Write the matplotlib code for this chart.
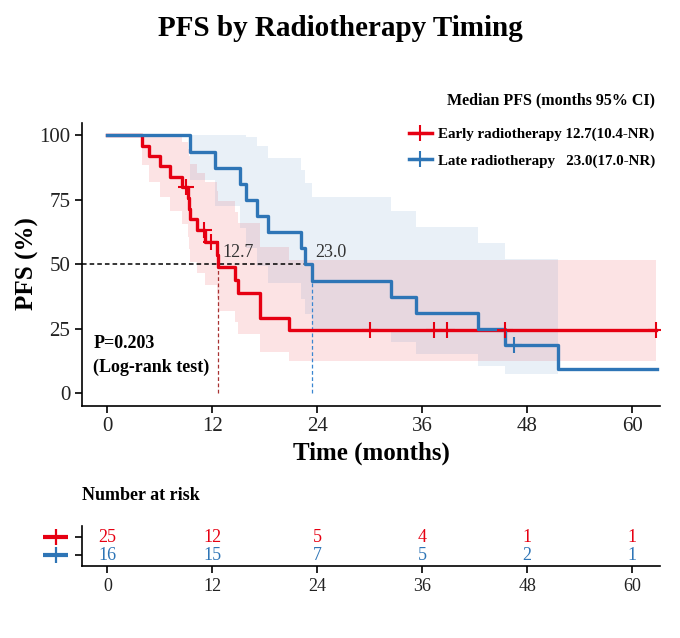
import matplotlib
matplotlib.use("Agg")
import matplotlib.pyplot as plt
from matplotlib.lines import Line2D
from matplotlib.transforms import blended_transform_factory

plt.rcParams['font.family'] = ['Liberation Serif', 'DejaVu Serif']

# ---------------- data ----------------
red_color = '#E60012'
blue_color = '#2E75B6'

groups = ['Early radiotherapy', 'Late radiotherapy']
legend_labels = ['Early radiotherapy 12.7(10.4-NR)', 'Late radiotherapy   23.0(17.0-NR)']

red_time = [0, 4.0, 4.8, 6.0, 7.2, 8.5, 9.2, 9.3, 9.5, 10.2, 11.2, 12.5, 12.7, 14.6, 14.9, 17.5, 20.8, 62.7]
red_surv = [100, 96, 92, 88, 84, 80, 75.8, 71.6, 67.4, 63.2, 58.7, 53.8, 48.9, 44.0, 39.1, 29.3, 24.4, 24.4]
red_upper = [100, 100, 100, 100, 99.7, 97.3, 94.7, 91.9, 88.8, 85.6, 82.1, 78.4, 74.5, 70.3, 66.0, 56.6, 51.7, 51.7]
red_lower = [100, 88.6, 82.0, 76.1, 70.8, 65.8, 60.7, 55.8, 51.1, 46.6, 41.9, 36.9, 32.1, 27.5, 23.2, 16.0, 12.5, 12.5]
red_cens_t = [9.0, 11.0, 11.9, 30.0, 37.4, 38.8, 45.5, 62.7]
red_cens_s = [80, 63.2, 58.7, 24.4, 24.4, 24.4, 24.4, 24.4]

blue_time = [0, 9.5, 12.3, 15.2, 15.9, 17.1, 18.4, 22.1, 22.6, 23.4, 32.4, 35.3, 42.4, 45.5, 51.5, 62.8]
blue_surv = [100, 93.75, 87.5, 81.25, 75, 68.75, 62.5, 56.25, 50, 43.75, 37.5, 31.25, 25, 18.75, 9.375, 9.375]
blue_band_time = [0, 9.5, 12.3, 15.2, 15.9, 17.1, 18.4, 22.1, 22.6, 23.4, 32.4, 35.3, 42.4, 45.5, 51.5]
blue_upper = [100, 100, 100, 100, 99.5, 95.7, 91.4, 86.7, 81.6, 76.3, 70.6, 64.6, 58.4, 52.0, 52.0]
blue_lower = [100, 82.6, 72.7, 64.2, 56.5, 49.4, 42.8, 36.5, 30.6, 25.1, 19.9, 15.1, 10.7, 7.5, 7.5]
blue_cens_t = [46.5]
blue_cens_s = [18.75]

median_values = [12.7, 23.0]
median_line_x = [12.7, 23.4]

risk_times = [0, 12, 24, 36, 48, 60]
risk_red = [25, 12, 5, 4, 1, 1]
risk_blue = [16, 15, 7, 5, 2, 1]

x_ticks = [0, 12, 24, 36, 48, 60]
y_ticks = [0, 25, 50, 75, 100]

# ---------------- figure ----------------
W, H = 680, 638
fig = plt.figure(figsize=(W / 100, H / 100), dpi=100)

ax = fig.add_axes([82 / W, 1 - 405.5 / H, 578 / W, 283 / H])
xlim = (-2.9, 63.2)
ax.set_xlim(*xlim)
ax.set_ylim(-4.7, 105)

# confidence bands
ax.fill_between(red_time, red_lower, red_upper, step='post', color=red_color, alpha=0.11, lw=0)
ax.fill_between(blue_band_time, blue_lower, blue_upper, step='post', color=blue_color, alpha=0.10, lw=0)

# median lines
ax.hlines(50, xlim[0], median_line_x[1], colors='black', linestyles=(0, (3, 2)), lw=1.1, zorder=3)
ax.vlines(median_line_x[0], 0, 50, colors='#A83232', linestyles=(0, (3, 2)), lw=0.9, zorder=3)
ax.vlines(median_line_x[1], 0, 50, colors='#3A86D0', linestyles=(0, (3, 2)), lw=0.9, zorder=3)

# survival curves
ax.step(red_time, red_surv, where='post', color=red_color, lw=2.4, zorder=4)
ax.step(blue_time, blue_surv, where='post', color=blue_color, lw=2.4, zorder=4)
ax.plot(red_cens_t, red_cens_s, ls='none', marker='+', ms=11, mew=1.5, color=red_color, zorder=5)
ax.plot(blue_cens_t, blue_cens_s, ls='none', marker='+', ms=11, mew=1.5, color=blue_color, zorder=5)

# median labels
ax.text(median_line_x[0] + 0.4, 51.2, f"{median_values[0]:.1f}", fontsize=13, color='#333333',
        ha='left', va='bottom')
ax.text(median_line_x[1] + 0.4, 51.2, f"{median_values[1]:.1f}", fontsize=13, color='#333333',
        ha='left', va='bottom')

# p-value
ax.text(-1.6, 19.5, "P=0.203", fontsize=13, fontweight='bold', ha='left', va='center')
ax.text(-1.6, 10.2, "(Log-rank test)", fontsize=13, fontweight='bold', ha='left', va='center')

# axes styling
for s in ['top', 'right']:
    ax.spines[s].set_visible(False)
for s in ['left', 'bottom']:
    ax.spines[s].set_linewidth(1.2)
ax.set_xticks(x_ticks)
ax.set_yticks(y_ticks)
ax.tick_params(direction='out', length=5, width=1.2, labelsize=15, labelcolor='#222222')
ax.set_xlabel("Time (months)", fontsize=18, fontweight='bold', labelpad=4)
ax.set_ylabel("PFS (%)", fontsize=18, fontweight='bold', labelpad=0)

# legend
handles = [Line2D([], [], color=red_color, lw=2.5, marker='+', ms=12, mew=1.5),
           Line2D([], [], color=blue_color, lw=2.5, marker='+', ms=12, mew=1.5)]
leg = ax.legend(handles, legend_labels, loc='upper right',
                bbox_to_anchor=(660 / W, 1 - 123 / H), bbox_transform=fig.transFigure,
                frameon=False, prop={'size': 10.8, 'weight': 'bold'},
                handlelength=1.5, handletextpad=0.45, labelspacing=0.85,
                borderaxespad=0, borderpad=0.3)
fig.text(655 / W, 1 - 100 / H, "Median PFS (months 95% CI)", fontsize=11.5, fontweight='bold',
         ha='right', va='center')

# title
fig.text(0.5, 1 - 28 / H, "PFS by Radiotherapy Timing", fontsize=21, fontweight='bold',
         ha='center', va='center')

# ---------------- risk table ----------------
rax = fig.add_axes([82 / W, 1 - 566 / H, 578 / W, 40 / H])
rax.set_xlim(*xlim)
rax.set_ylim(-0.6, 1.63)
for s in ['top', 'right']:
    rax.spines[s].set_visible(False)
for s in ['left', 'bottom']:
    rax.spines[s].set_linewidth(1.2)
rax.set_xticks(x_ticks)
rax.set_yticks([0, 1])
rax.set_yticklabels([])
rax.tick_params(direction='out', length=5, width=1.2, labelsize=13, labelcolor='#222222')

for t, n in zip(risk_times, risk_red):
    rax.text(t, 1, str(n), color=red_color, ha='center', va='center', fontsize=13)
for t, n in zip(risk_times, risk_blue):
    rax.text(t, 0, str(n), color=blue_color, ha='center', va='center', fontsize=13)

tr = blended_transform_factory(rax.transAxes, rax.transData)
for yy, col in [(1, red_color), (0, blue_color)]:
    rax.plot([-0.0675, -0.0242], [yy, yy], color=col, lw=3, transform=tr, clip_on=False,
             solid_capstyle='butt')
    rax.plot([-0.0458], [yy], marker='+', ms=12, mew=1.6, color=col, transform=tr, clip_on=False)

fig.text(82 / W, 1 - 495 / H, "Number at risk", fontsize=13, fontweight='bold',
         ha='left', va='center')

fig.savefig("out.png", dpi=100)
